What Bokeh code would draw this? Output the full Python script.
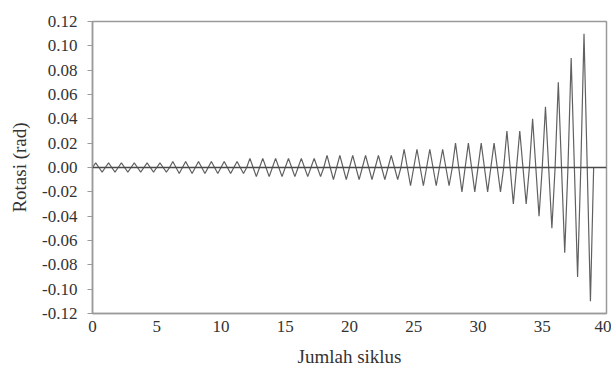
from bokeh.plotting import figure
from bokeh.models import Span, Range1d, FixedTicker, PrintfTickFormatter
from bokeh.embed import file_html
from bokeh.resources import INLINE

# Amplitude (rad) of each loading cycle, cycle 0 .. 38
cycle_amplitudes = [
    0.00375, 0.00375, 0.00375, 0.00375, 0.00375, 0.00375,
    0.005, 0.005, 0.005, 0.005, 0.005, 0.005,
    0.0075, 0.0075, 0.0075, 0.0075, 0.0075, 0.0075,
    0.01, 0.01, 0.01, 0.01, 0.01, 0.01,
    0.015, 0.015, 0.015, 0.015,
    0.02, 0.02, 0.02, 0.02,
    0.03, 0.03,
    0.04,
    0.05,
    0.07,
    0.09,
    0.11,
]
x_ticks = [0, 5, 10, 15, 20, 25, 30, 35, 40]
y_ticks = [-0.12, -0.10, -0.08, -0.06, -0.04, -0.02, 0.0, 0.02, 0.04, 0.06, 0.08, 0.10, 0.12]

# Build the triangular wave: 0, +A, 0, -A within each cycle
xs, ys = [], []
for i, a in enumerate(cycle_amplitudes):
    xs += [i, i + 0.25, i + 0.5, i + 0.75]
    ys += [0.0, a, 0.0, -a]
xs.append(len(cycle_amplitudes))
ys.append(0.0)

FONT = "Times New Roman, Liberation Serif, serif"

p = figure(width=611, height=375, output_backend="svg", toolbar_location=None,
           x_range=Range1d(0, 40), y_range=Range1d(-0.12, 0.12))
p.min_border_left = 92
p.min_border_right = 5
p.min_border_top = 21
p.min_border_bottom = 62
p.background_fill_color = "white"
p.border_fill_color = "white"
p.outline_line_color = "#9a9a9a"
p.outline_line_width = 1.5
p.grid.visible = False

p.add_layout(Span(location=0, dimension="width", line_color="#4a4a4a", line_width=1.4))
p.line(xs, ys, line_color="#606060", line_width=1.2)

xa = p.xaxis[0]
xa.ticker = FixedTicker(ticks=x_ticks)
xa.axis_label = "Jumlah siklus"
xa.major_tick_out = 0
xa.major_tick_in = 0
xa.minor_tick_out = 0
xa.minor_tick_in = 0
xa.major_label_standoff = 7
xa.axis_label_standoff = 11

ya = p.yaxis[0]
ya.ticker = FixedTicker(ticks=y_ticks)
ya.formatter = PrintfTickFormatter(format="%.2f")
ya.axis_label = "Rotasi (rad)"
ya.major_tick_out = 5
ya.major_tick_in = 0
ya.minor_tick_out = 0
ya.minor_tick_in = 0
ya.major_label_standoff = 10
ya.axis_label_standoff = 9

for ax in (xa, ya):
    ax.axis_line_color = "#9a9a9a"
    ax.axis_line_width = 1.5
    ax.major_tick_line_color = "#9a9a9a"
    ax.major_label_text_font = FONT
    ax.major_label_text_font_size = "17px"
    ax.major_label_text_color = "#333333"
    ax.axis_label_text_font = FONT
    ax.axis_label_text_font_size = "19px"
    ax.axis_label_text_font_style = "normal"
    ax.axis_label_text_color = "#333333"

open("out.html", "w").write(file_html(p, INLINE))
